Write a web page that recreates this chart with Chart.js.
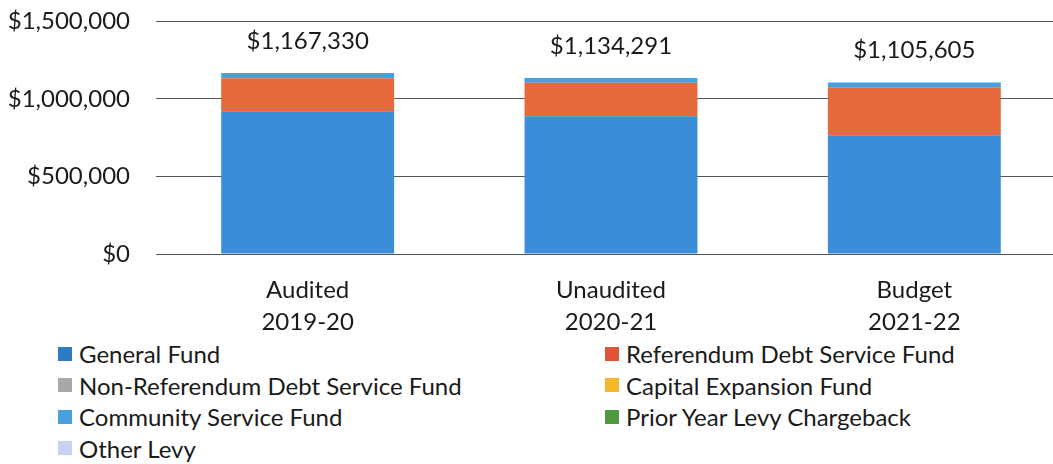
<!DOCTYPE html>
<html>
<head>
<meta charset="utf-8">
<script src="https://cdn.jsdelivr.net/npm/chart.js@4.4.1/dist/chart.umd.min.js"></script>
<style>
  html, body { margin: 0; padding: 0; background: #fff; overflow: hidden; }
  body { width: 1053px; height: 464px; position: relative; font-family: Lato, 'Open Sans', sans-serif; }
  #wrap { position: absolute; left: 0; top: -19px; width: 1066px; height: 357px; }
  #legend {
    position: absolute; left: 58px; top: 338px; width: 990px;
    display: grid; grid-template-columns: 547px 440px; grid-auto-rows: 31.5px;
    font-size: 24px; color: #1a1a1a;
  }
  .item { display: flex; align-items: center; white-space: nowrap; }
  .box { width: 14px; height: 14px; margin-right: 7px; flex: none; }
</style>
</head>
<body>
<div id="wrap"><canvas id="levyChart"></canvas></div>
<div id="legend"></div>
<script>
// Data
const categories = [['Audited', '2019-20'], ['Unaudited', '2020-21'], ['Budget', '2021-22']];
const generalFund = [921000, 889000, 766000];
const referendumDebt = [212000, 215000, 309000];
const nonReferendumDebt = [0, 0, 0];
const capitalExpansion = [0, 0, 0];
const communityService = [34330, 30291, 30605];
const priorYearChargeback = [0, 0, 0];
const otherLevy = [0, 0, 0];
const yTicks = [0, 500000, 1000000, 1500000];

const fmt = v => '$' + v.toLocaleString('en-US');

// legend order is row by row (two columns)
const series = [
  { label: 'General Fund', data: generalFund, color: '#3a8dd6', box: '#2b7cc4' },
  { label: 'Referendum Debt Service Fund', data: referendumDebt, color: '#e6693c', box: '#e0553a' },
  { label: 'Non-Referendum Debt Service Fund', data: nonReferendumDebt, color: '#a5a5a5', box: '#a8a8a8' },
  { label: 'Capital Expansion Fund', data: capitalExpansion, color: '#f6b72c', box: '#f6b72c' },
  { label: 'Community Service Fund', data: communityService, color: '#45a2e2', box: '#4a9fdd' },
  { label: 'Prior Year Levy Chargeback', data: priorYearChargeback, color: '#4f9a3f', box: '#4f9a3f' },
  { label: 'Other Levy', data: otherLevy, color: '#c6d3f2', box: '#c6d3f2' }
];

// stacking order in the bars (bottom to top)
const stackOrder = ['General Fund', 'Non-Referendum Debt Service Fund', 'Referendum Debt Service Fund',
  'Capital Expansion Fund', 'Prior Year Levy Chargeback', 'Other Levy', 'Community Service Fund'];

const totals = categories.map((c, i) => series.reduce((s, d) => s + d.data[i], 0));
const FONT = "Lato, 'Open Sans', sans-serif";

// totals above each bar
const totalLabels = {
  id: 'totalLabels',
  afterDatasetsDraw(chart) {
    const { ctx, scales: { x, y } } = chart;
    ctx.save();
    ctx.font = '24px ' + FONT;
    ctx.fillStyle = '#1a1a1a';
    ctx.textAlign = 'center';
    ctx.textBaseline = 'middle';
    totals.forEach((t, i) => {
      ctx.fillText(fmt(t), x.getPixelForValue(i), y.getPixelForValue(t) - 32);
    });
    ctx.restore();
  }
};

const chart = new Chart(document.getElementById('levyChart'), {
  type: 'bar',
  data: {
    labels: categories,
    datasets: stackOrder.map(name => {
      const s = series.find(d => d.label === name);
      return { label: s.label, data: s.data, backgroundColor: s.color,
        borderWidth: 0, categoryPercentage: 1, barPercentage: 0.57 };
    })
  },
  options: {
    responsive: true,
    maintainAspectRatio: false,
    animation: false,
    layout: { padding: { top: 2, left: 0, right: 0, bottom: 0 } },
    plugins: { legend: { display: false }, tooltip: { enabled: false } },
    scales: {
      x: {
        stacked: true,
        afterFit: s => { s.height = 84; },
        grid: { display: false, drawTicks: false },
        border: { display: false },
        ticks: { color: '#1a1a1a', padding: 21, font: { family: FONT, size: 24, lineHeight: 1.3 }, maxRotation: 0 }
      },
      y: {
        stacked: true,
        min: 0, max: 1500000,
        afterBuildTicks: s => { s.ticks = yTicks.map(v => ({ value: v })); },
        afterFit: s => { s.width = 156; },
        grid: { color: '#55555f', lineWidth: 1, drawTicks: false },
        border: { display: false },
        ticks: { color: '#1a1a1a', padding: 26, font: { family: FONT, size: 24 }, callback: v => fmt(v) }
      }
    }
  },
  plugins: [totalLabels]
});

// html legend in two columns
const legend = document.getElementById('legend');
series.forEach(s => {
  const el = document.createElement('div');
  el.className = 'item';
  el.innerHTML = '<span class="box" style="background:' + s.box + '"></span><span>' + s.label + '</span>';
  legend.appendChild(el);
});
</script>
</body>
</html>
